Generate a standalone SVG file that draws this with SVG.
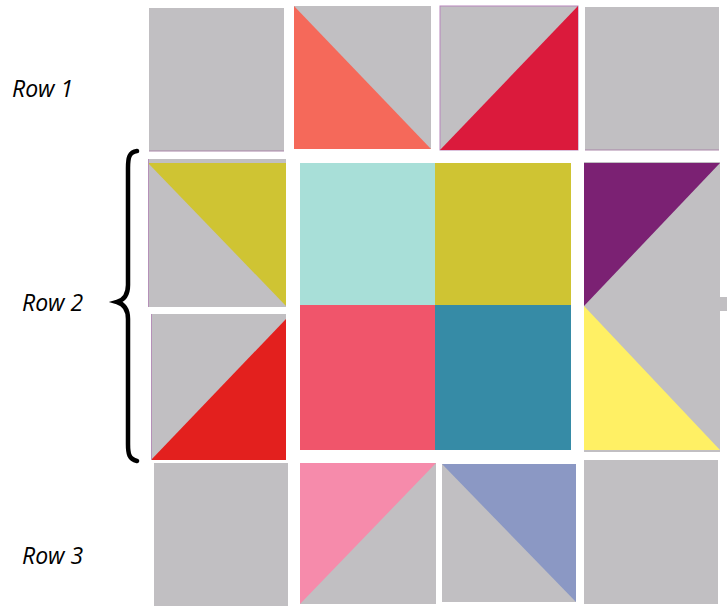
<svg xmlns="http://www.w3.org/2000/svg" width="727" height="606" viewBox="0 0 727 606">
<style>
.g{fill:#c1bfc2}
.lbl{font-family:"Open Sans","Liberation Sans",sans-serif;font-style:italic;font-size:23px;fill:#000}
</style>
<rect width="727" height="606" fill="#ffffff"/>
<g id="labels">
<text class="lbl" x="12" y="97">Row 1</text>
<text class="lbl" x="22" y="311">Row 2</text>
<text class="lbl" x="22" y="564">Row 3</text>
</g>
<g id="brace">
<path d="M137,151 C129,152 128,158 128,168 L128,285 C128,295 124,300 117,302 C124,304 128,309 128,319 L128,444 C128,454 129,459 137,461" fill="none" stroke="#000" stroke-width="4.5" stroke-linecap="round"/>
</g>
<g id="r1c1"><rect class="g" x="149" y="8" width="135" height="143"/><line x1="149" y1="151" x2="284" y2="151" stroke="#a985a8" stroke-width="1"/></g>
<g id="r1c2"><rect class="g" x="294" y="6" width="137" height="143"/><polygon points="294,6 294,149 431,149" fill="#f5695a"/></g>
<g id="r1c3"><rect class="g" x="440" y="6" width="138" height="144" stroke="#b886bb" stroke-width="1"/><polygon points="440,150 578,150 578,6" fill="#db1a3c"/></g>
<g id="r1c4"><rect class="g" x="585" y="7" width="134" height="143"/><line x1="585" y1="150" x2="719" y2="150" stroke="#a985a8" stroke-width="1"/></g>
<g id="r2c1a"><rect class="g" x="148" y="159" width="138" height="148"/><polygon points="148,163 286,163 286,306" fill="#cfc433"/><line x1="148.5" y1="159" x2="148.5" y2="307" stroke="#b590b8" stroke-width="1"/></g>
<g id="r2c1b"><rect class="g" x="151" y="314" width="135" height="146"/><polygon points="151,460 286,460 286,319" fill="#e3201e"/><line x1="151.5" y1="314" x2="151.5" y2="460" stroke="#b590b8" stroke-width="1"/></g>
<g id="center">
<rect x="300" y="163" width="135" height="142" fill="#a8dfd8"/>
<rect x="435" y="163" width="136" height="142" fill="#cfc433"/>
<rect x="300" y="305" width="135" height="145" fill="#f0556b"/>
<rect x="435" y="305" width="136" height="145" fill="#368ba6"/>
</g>
<g id="r2c4">
<rect class="g" x="584" y="162" width="136" height="290"/>
<rect class="g" x="588" y="297" width="139" height="14"/>
<polygon points="584,163 720,163 584,306" fill="#7b2173"/>
<polygon points="584,306 584,450 720,450" fill="#fff064"/>
</g>
<g id="r3c1"><rect class="g" x="154" y="463" width="134" height="143"/></g>
<g id="r3c2"><rect class="g" x="300" y="463" width="136" height="141"/><polygon points="300,463 436,463 300,604" fill="#f68bab"/></g>
<g id="r3c3"><rect class="g" x="442" y="464" width="134" height="138"/><polygon points="442,464 576,464 576,602" fill="#8b98c4"/></g>
<g id="r3c4"><rect class="g" x="584" y="460" width="134" height="144"/></g>
<g id="connectors"/>
</svg>
